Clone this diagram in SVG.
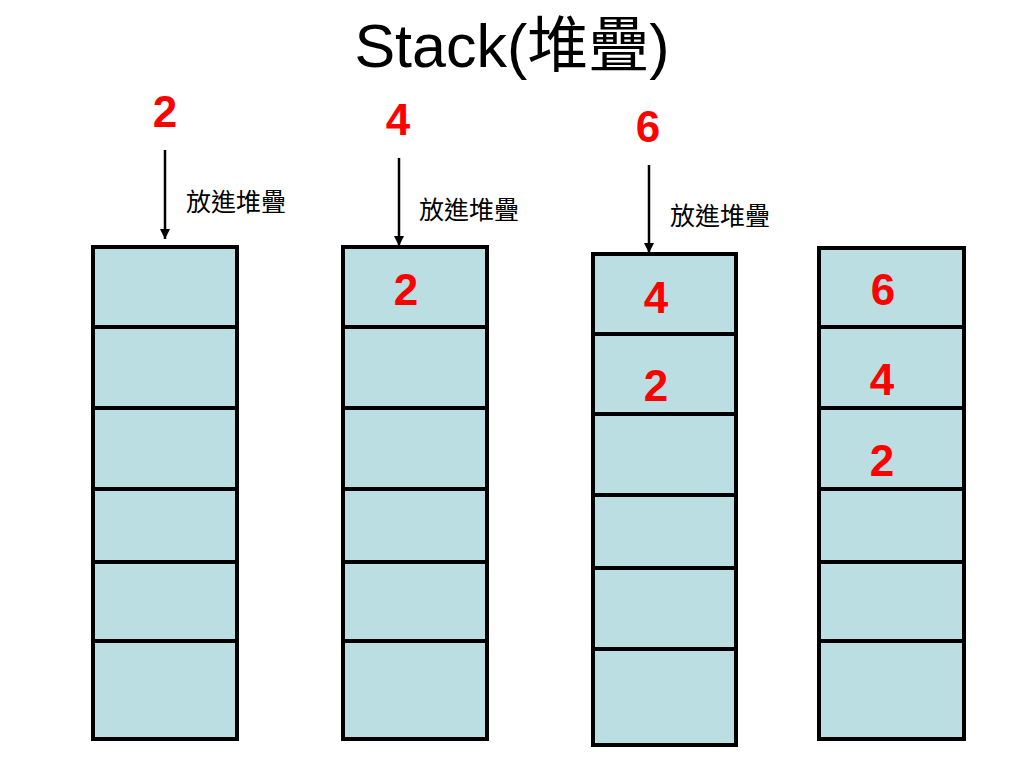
<svg xmlns="http://www.w3.org/2000/svg" width="1024" height="768" viewBox="0 0 1024 768">
<defs>
<style>
.cell{fill:#BADEE1;stroke:#000;stroke-width:4}
.num{font-family:"Liberation Sans",Arial,sans-serif;font-weight:bold;font-size:44px;fill:#FF0000;text-anchor:middle}
.lbl{font-family:"Liberation Sans","Noto Sans CJK TC",sans-serif;font-size:25px;fill:#000}
.title{font-family:"Liberation Sans","Noto Sans CJK TC",sans-serif;font-size:61px;fill:#000;text-anchor:middle}
.arrow{stroke:#000;stroke-width:2.5;fill:none;marker-end:url(#ah)}
</style>
<marker id="ah" viewBox="0 0 10 10" refX="10" refY="5" markerWidth="4" markerHeight="4" orient="auto" markerUnits="strokeWidth">
<path d="M0,0 L10,5 L0,10 z" fill="#000"/>
</marker>
</defs>
<rect width="1024" height="768" fill="#fff"/>
<text id="title" class="title" x="512" y="67">Stack(堆疊)</text>

<g id="stack1">
<rect class="cell" x="93" y="247" width="144" height="80"/>
<rect class="cell" x="93" y="327" width="144" height="81"/>
<rect class="cell" x="93" y="408" width="144" height="81"/>
<rect class="cell" x="93" y="489" width="144" height="73"/>
<rect class="cell" x="93" y="562" width="144" height="79"/>
<rect class="cell" x="93" y="641" width="144" height="98"/>
</g>
<g id="stack2">
<rect class="cell" x="343" y="247" width="144" height="80"/>
<rect class="cell" x="343" y="327" width="144" height="81"/>
<rect class="cell" x="343" y="408" width="144" height="81"/>
<rect class="cell" x="343" y="489" width="144" height="73"/>
<rect class="cell" x="343" y="562" width="144" height="79"/>
<rect class="cell" x="343" y="641" width="144" height="98"/>
<text class="num" x="406" y="305">2</text>
</g>
<g id="stack3">
<rect class="cell" x="593" y="254" width="143" height="80"/>
<rect class="cell" x="593" y="334" width="143" height="80"/>
<rect class="cell" x="593" y="414" width="143" height="81"/>
<rect class="cell" x="593" y="495" width="143" height="73"/>
<rect class="cell" x="593" y="568" width="143" height="81"/>
<rect class="cell" x="593" y="649" width="143" height="96"/>
<text class="num" x="656" y="313">4</text>
<text class="num" x="656" y="401">2</text>
</g>
<g id="stack4">
<rect class="cell" x="819" y="248" width="145" height="79"/>
<rect class="cell" x="819" y="327" width="145" height="81"/>
<rect class="cell" x="819" y="408" width="145" height="81"/>
<rect class="cell" x="819" y="489" width="145" height="73"/>
<rect class="cell" x="819" y="562" width="145" height="79"/>
<rect class="cell" x="819" y="641" width="145" height="98"/>
<text class="num" x="883" y="305">6</text>
<text class="num" x="882" y="395">4</text>
<text class="num" x="882" y="476">2</text>
</g>

<g id="item2"><text class="num" x="165" y="127">2</text></g>
<g id="item4"><text class="num" x="398" y="135">4</text></g>
<g id="item6"><text class="num" x="648" y="142">6</text></g>

<g id="connectors">
<line class="arrow" x1="165" y1="150" x2="165" y2="239"/>
<line class="arrow" x1="399" y1="158" x2="399" y2="246"/>
<line class="arrow" x1="649" y1="165" x2="649" y2="253"/>
</g>
<g id="labels">
<text class="lbl" x="186" y="211">放進堆疊</text>
<text class="lbl" x="419" y="219">放進堆疊</text>
<text class="lbl" x="670" y="225">放進堆疊</text>
</g>
</svg>
